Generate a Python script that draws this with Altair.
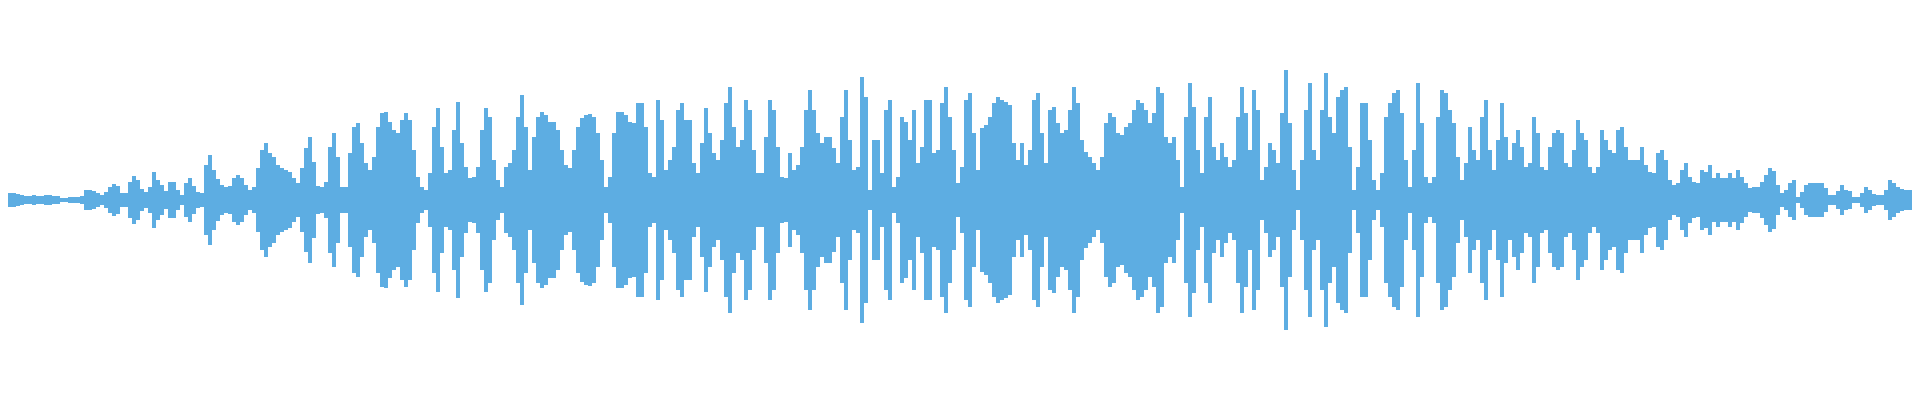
import altair as alt
import pandas as pd

# Waveform envelope amplitude (half-height), read every 4 samples-columns
seg1 = [7,7,7,7,6,5,4,4,5,4, 4,5,5,4,4,2,2,3,3,3, 4,10,10,9,7,5,8,13,16,14,
        7,7,18,24,20,11,8,13,28,20, 15,9,18,18,10,5,17,22,14,8, 7,35,45,30,21,15,13,14,22,25,
        22,15,10,13,32,50,57,47,43,35, 32,30,28,22,17,32,52,63,38,14]
seg2 = [13,18,53,67,43,13,13,47,73,77, 57,37,30,43,73,87,88,78,70,67, 80,87,80,50,23,13,10,27,73,92,
        53,27,30,70,98,57,33,22,23,33, 70,92,83,40,20,13,33,37,50,83, 105,73,30,63,83,88,85,78,78,70,
        50,35,32,50,73,82,85,86,83,67, 40,13,23,67,88,88,85,78,77,97]
seg3 = [97,73,27,23,100,80,30,40,53,90, 97,80,80,37,27,57,92,67,47,40, 60,97,113,73,53,60,100,90,50,27,
        27,63,100,90,53,23,22,47,30,35, 53,90,110,90,67,57,63,63,52,37, 83,110,60,30,33,123,103,10,60,60,
        27,90,100,13,23,83,78,60,90,37, 53,100,100,47,50,97,113,83,50,17]
seg4 = [33,100,107,67,30,72,75,83,97,103, 100,98,95,57,40,57,35,50,100,107, 67,37,90,93,77,67,70,90,113,97,
        60,48,43,37,30,43,77,87,83,67, 65,73,77,90,100,97,90,77,87,113, 107,63,57,63,40,13,83,117,93,50,
        27,83,103,53,40,57,43,33,40,83, 113,87,50,110,90,20,33,57,50,37]
seg5 = [87,130,77,30,10,40,90,117,50,40, 90,127,83,67,103,110,113,53,10,33, 97,97,60,20,10,27,83,97,107,110,
        87,40,13,50,117,77,23,17,23,83, 110,107,90,77,43,20,37,73,50,40, 83,100,50,30,60,97,63,40,57,70,
        53,33,37,83,67,33,30,53,67,70, 67,37,33,50,80,67,60,33,27,33]
seg6 = [70,60,50,47,70,73,53,40,40,40, 53,35,28,27,47,50,40,20,15,17, 30,37,23,18,17,30,28,35,22,27,
        22,22,27,22,30,23,17,12,13,13, 18,25,32,29,15,7,10,17,20,3, 8,15,17,17,17,17,12,5,5,9,
        15,10,9,3,3,7,13,10,6,5, 5,10,20,17,13,11,10,10,11,11]

amp = seg1 + seg2 + seg3 + seg4 + seg5 + seg6
df = pd.DataFrame({"t": [i * 4 + 2 for i in range(len(amp))], "amp": amp})

chart = alt.Chart(df).mark_area(color="#5dade2", clip=True, interpolate="step").transform_calculate(
    lo="-datum.amp"
).encode(
    x=alt.X("t:Q", scale=alt.Scale(domain=[8, 1912], nice=False, zero=False), axis=None),
    y=alt.Y("lo:Q", scale=alt.Scale(domain=[-192, 192], nice=False), axis=None),
    y2="amp:Q",
).properties(width=1904, height=384, padding=0).configure_view(stroke=None)

chart.save("out.html", embed_options={"renderer": "svg", "actions": False})
